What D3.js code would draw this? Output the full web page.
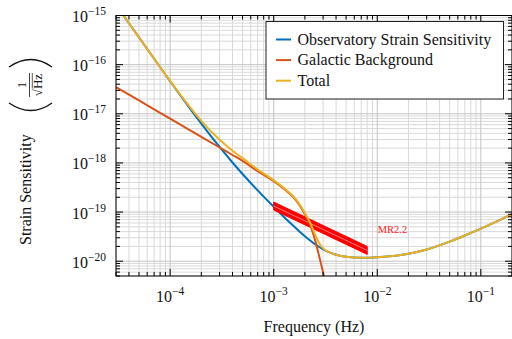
<!DOCTYPE html>
<html><head><meta charset="utf-8">
<script src="https://cdn.jsdelivr.net/npm/d3@7"></script>
<style>html,body{margin:0;padding:0;background:#fff;}svg{display:block;font-family:"Liberation Serif","Times New Roman",serif;}</style>
</head><body>
<svg id="c" width="512" height="339"></svg>
<script>
// ---- data ----
const freq = [3e-5,3.5e-5,4e-5,5e-5,7e-5,1e-4,1.5e-4,2e-4,3e-4,4e-4,5e-4,7e-4,1e-3,1.25e-3,1.5e-3,1.75e-3,2e-3,2.25e-3,2.5e-3,2.75e-3,3e-3,3.5e-3,4e-3,5e-3,7e-3,1e-2,1.5e-2,2e-2,3e-2,5e-2,7e-2,0.1,0.15,0.2];
const sensitivity = [1.65e-15,1.04e-15,6.97e-16,3.58e-16,1.317e-16,4.60e-17,1.418e-17,6.30e-18,2.11e-18,1.019e-18,5.95e-19,2.76e-19,1.278e-19,8.05e-20,5.58e-20,4.14e-20,3.234e-20,2.639e-20,2.232e-20,1.947e-20,1.744e-20,1.49e-20,1.352e-20,1.229e-20,1.178e-20,1.207e-20,1.297e-20,1.422e-20,1.736e-20,2.505e-20,3.334e-20,4.613e-20,6.80e-20,9.03e-20];
const total = [1.65e-15,1.04e-15,6.97e-16,3.585e-16,1.323e-16,4.668e-17,1.498e-17,7.154e-18,2.949e-18,1.772e-18,1.251e-18,7.339e-19,4.438e-19,3.106e-19,2.221e-19,1.508e-19,9.56e-20,6.1e-20,3.55e-20,2.314e-20,1.838e-20,1.494e-20,1.352e-20,1.229e-20,1.178e-20,1.207e-20,1.297e-20,1.422e-20,1.736e-20,2.505e-20,3.334e-20,4.613e-20,6.80e-20,9.03e-20];
const galFreq = [3e-5,5e-5,7e-5,1e-4,1.5e-4,2e-4,3e-4,4e-4,5e-4,7e-4,1e-3,1.25e-3,1.5e-3,1.75e-3,2e-3,2.25e-3,2.5e-3,2.75e-3,3e-3,3.25e-3,3.5e-3];
const galactic = [3.5e-17,1.868e-17,1.234e-17,7.95e-18,4.84e-18,3.39e-18,2.06e-18,1.45e-18,1.10e-18,6.8e-19,4.25e-19,3.0e-19,2.15e-19,1.45e-19,9.0e-20,5.5e-20,2.75e-20,1.25e-20,5.8e-21,2.6e-21,1.1e-21];
const mrFreq = [1e-3, 8e-3];
const mrUpper = [1.6e-19, 2.0e-20];
const mrLower = [1.1e-19, 1.375e-20];
const mrLabel = "MR2.2";
const xTicks = [1e-4,1e-3,1e-2,1e-1];
const xTickExp = ["−4","−3","−2","−1"];
const yTicks = [1e-20,1e-19,1e-18,1e-17,1e-16,1e-15];
const yTickExp = ["−20","−19","−18","−17","−16","−15"];
const seriesNames = ["Observatory Strain Sensitivity","Galactic Background","Total"];
const colors = ["#0072BD","#D95319","#EDB120"];

// ---- layout ----
const svg = d3.select("#c");
const L=116, R=512, T=15.5, B=276;
const x = d3.scaleLog().domain([3e-5,0.2]).range([L,R]);
const y = d3.scaleLog().domain([5e-21,1e-15]).range([B,T]);

svg.append("defs").append("clipPath").attr("id","clip")
  .append("rect").attr("x",L).attr("y",T).attr("width",R-L).attr("height",B-T);

const xMinor=[], yMinor=[];
for(let e=-5;e<=0;e++) for(let k=2;k<=9;k++){const v=k*Math.pow(10,e); if(v>=3e-5&&v<=0.2) xMinor.push(v);}
for(let e=-21;e<=-15;e++) for(let k=2;k<=9;k++){const v=k*Math.pow(10,e); if(v>=5e-21&&v<=1e-15) yMinor.push(v);}

const grid = svg.append("g");
grid.selectAll(".gxm").data(xMinor).enter().append("line")
  .attr("x1",d=>x(d)).attr("x2",d=>x(d)).attr("y1",T).attr("y2",B)
  .attr("stroke","#d9d9d9").attr("stroke-width",1);
grid.selectAll(".gym").data(yMinor).enter().append("line")
  .attr("y1",d=>y(d)).attr("y2",d=>y(d)).attr("x1",L).attr("x2",R)
  .attr("stroke","#d9d9d9").attr("stroke-width",1);
grid.selectAll(".gx").data(xTicks).enter().append("line")
  .attr("x1",d=>x(d)).attr("x2",d=>x(d)).attr("y1",T).attr("y2",B)
  .attr("stroke","#c4c4c4").attr("stroke-width",1);
grid.selectAll(".gy").data(yTicks).enter().append("line")
  .attr("y1",d=>y(d)).attr("y2",d=>y(d)).attr("x1",L).attr("x2",R)
  .attr("stroke","#c4c4c4").attr("stroke-width",1);

// ---- curves ----
const plot = svg.append("g").attr("clip-path","url(#clip)");
const line = d3.line().x(d=>x(d[0])).y(d=>y(d[1])).curve(d3.curveMonotoneX);
const blueData = freq.map((f,i)=>[f,sensitivity[i]]);
const galData = galFreq.map((f,i)=>[f,galactic[i]]);
const totData = freq.map((f,i)=>[f,total[i]]);

plot.append("path").attr("d",line(blueData)).attr("fill","none").attr("stroke",colors[0]).attr("stroke-width",2);

const band = d3.area().x(d=>x(d[0])).y0(d=>y(d[2])).y1(d=>y(d[1]));
const bandData = mrFreq.map((f,i)=>[f,mrUpper[i],mrLower[i]]);
plot.append("path").attr("d",band(bandData)).attr("fill","#ff0000").attr("stroke","#ff0000").attr("stroke-width",1);
const mid = d3.line().x(d=>x(d[0])).y(d=>y(Math.sqrt(d[1]*d[2])));
plot.append("path").attr("d",mid(bandData)).attr("fill","none").attr("stroke","#ff9a9a").attr("stroke-width",0.8);

plot.append("path").attr("d",line(galData)).attr("fill","none").attr("stroke",colors[1]).attr("stroke-width",2);
plot.append("path").attr("d",line(totData)).attr("fill","none").attr("stroke",colors[2]).attr("stroke-width",2);

svg.append("text").attr("x",x(1.01e-2)).attr("y",y(3.7e-20)).attr("font-size",10.5).attr("fill","#ff1a1a").text(mrLabel);

// ---- ticks ----
const ax = svg.append("g").attr("stroke","#000").attr("stroke-width",1);
const tickXs = (vals,len)=>{vals.forEach(v=>{
  ax.append("line").attr("x1",x(v)).attr("x2",x(v)).attr("y1",B).attr("y2",B-len);
  ax.append("line").attr("x1",x(v)).attr("x2",x(v)).attr("y1",T).attr("y2",T+len);
});};
const tickYs = (vals,len)=>{vals.forEach(v=>{
  ax.append("line").attr("y1",y(v)).attr("y2",y(v)).attr("x1",L).attr("x2",L+len);
  ax.append("line").attr("y1",y(v)).attr("y2",y(v)).attr("x1",R).attr("x2",R-len);
});};
tickXs(xMinor,4); tickXs(xTicks,7); tickYs(yMinor,4); tickYs(yTicks,7);

svg.append("rect").attr("x",L).attr("y",T).attr("width",R-L).attr("height",B-T)
  .attr("fill","none").attr("stroke","#000").attr("stroke-width",1);

xTicks.forEach((v,i)=>{
  const t=svg.append("text").attr("x",x(v)).attr("y",302).attr("text-anchor","middle").attr("font-size",16).attr("fill","#111");
  t.append("tspan").text("10");
  t.append("tspan").attr("dy",-7).attr("font-size",11.5).text(xTickExp[i]);
});
yTicks.forEach((v,i)=>{
  const t=svg.append("text").attr("x",106).attr("y",y(v)+6.5).attr("text-anchor","end").attr("font-size",16).attr("fill","#111");
  t.append("tspan").text("10");
  t.append("tspan").attr("dy",-7).attr("font-size",11.5).text(yTickExp[i]);
});

svg.append("text").attr("x",(L+R)/2).attr("y",332).attr("text-anchor","middle").attr("font-size",16).attr("fill","#111").text("Frequency (Hz)");

const yl = svg.append("g").attr("transform","translate(31,245) rotate(-90)").attr("fill","#111");
yl.append("text").attr("x",0).attr("y",0).attr("font-size",16).text("Strain Sensitivity");
yl.append("text").attr("x",160).attr("y",-5).attr("text-anchor","middle").attr("font-size",13).text("1");
yl.append("line").attr("x1",148).attr("x2",172).attr("y1",-1.5).attr("y2",-1.5).attr("stroke","#111").attr("stroke-width",0.8);
const den = yl.append("text").attr("x",160).attr("y",11).attr("text-anchor","middle").attr("font-size",13);
den.append("tspan").text("√");
den.append("tspan").text("Hz");
yl.append("line").attr("x1",156.5).attr("x2",172).attr("y1",1.3).attr("y2",1.3).attr("stroke","#111").attr("stroke-width",0.7);
yl.append("path").attr("d","M142,-22 Q127,0 142,21").attr("fill","none").attr("stroke","#111").attr("stroke-width",1.3);
yl.append("path").attr("d","M178,-22 Q193,0 178,21").attr("fill","none").attr("stroke","#111").attr("stroke-width",1.3);

const lg = svg.append("g");
lg.append("rect").attr("x",266).attr("y",21.5).attr("width",237.5).attr("height",77.5).attr("fill","#fff").attr("stroke","#222").attr("stroke-width",1);
seriesNames.forEach((n,i)=>{
  const yy = 39.5 + i*20.6;
  lg.append("line").attr("x1",276).attr("x2",291).attr("y1",yy).attr("y2",yy).attr("stroke",colors[i]).attr("stroke-width",2);
  lg.append("text").attr("x",297.5).attr("y",yy+5).attr("font-size",16).attr("fill","#111").text(n);
});
</script>
</body></html>
